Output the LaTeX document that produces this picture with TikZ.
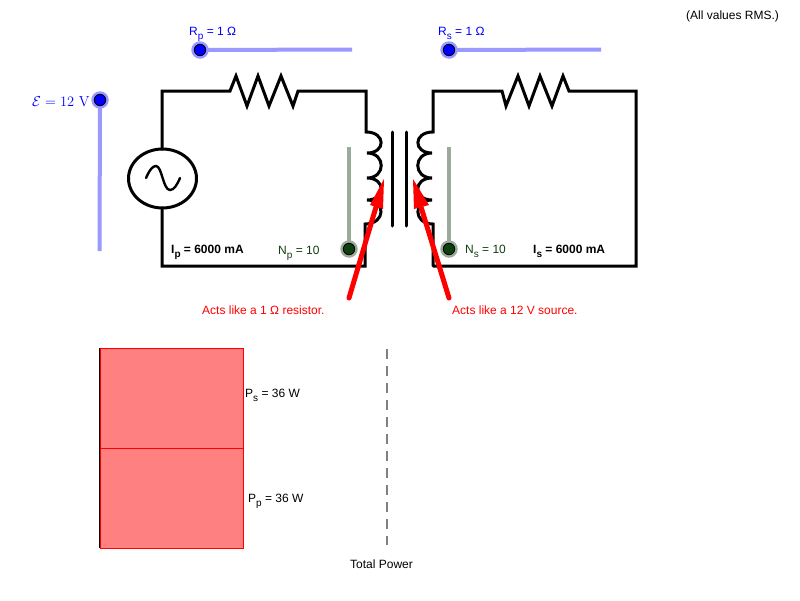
\documentclass[tikz,border=0pt]{standalone}
\usepackage{fontspec}
\setsansfont{Liberation Sans}
\definecolor{slider}{HTML}{9999FF}
\definecolor{slidergreen}{HTML}{9BAB99}
\definecolor{ptgreen}{HTML}{0F3F0F}
\definecolor{barfill}{HTML}{FF8080}
\definecolor{txtgreen}{HTML}{0F3F0F}
\newcommand{\sbs}[1]{\raisebox{-4pt}{\fontsize{10}{10}\selectfont #1}}
\tikzset{
  x=1pt,y=-1pt,
  wire/.style={draw=black,line width=3pt,line join=miter,line cap=round},
  bluetrack/.style={draw=slider,line width=4pt},
  greentrack/.style={draw=slidergreen,line width=4pt},
  bluedot/.style={circle,fill=blue,draw=black,line width=0.8pt,minimum size=11.5pt,inner sep=0pt},
  greendot/.style={circle,fill=ptgreen,draw=black,line width=0.8pt,minimum size=11.5pt,inner sep=0pt},
  halo/.style={circle,fill=#1,minimum size=17.5pt,inner sep=0pt},
  lbl/.style={font=\sffamily\fontsize{12}{14}\selectfont,inner sep=0pt,anchor=base west},
  boldlbl/.style={lbl,font=\sffamily\bfseries\fontsize{12}{14}\selectfont},
  redarrow/.style={draw=red,line width=5pt,line cap=round},
  redhead/.style={fill=red,draw=none},
  bar/.style={fill=barfill,draw=red,line width=1pt}
}
\begin{document}
\begin{tikzpicture}
\useasboundingbox (0,0) rectangle (800,600);
\fill[white] (0,0) rectangle (800,600);
% primary circuit
\draw[wire] (162,149) -- (162,91) -- (230,91) -- (236,76) -- (247,106) -- (258,76) -- (269,106) -- (281,76) -- (293,106) -- (298,91) -- (366,91) -- (366,132)
  .. controls (386,132) and (386,153) .. (367,153)
  .. controls (386,153) and (386,178) .. (367,178)
  .. controls (386,178) and (386,200) .. (367,200)
  .. controls (386,200) and (386,224) .. (365,224)
  -- (365,266) -- (162,266) -- (162,208);
\draw[draw=black,line width=3pt] (162.5,178.5) ellipse [x radius=34,y radius=29.5];
\draw[draw=black,line width=2.4pt,line cap=round] (146,178) .. controls (150,169) and (153,166) .. (156,166) .. controls (162,166) and (163,190) .. (170,190) .. controls (174,190) and (177,185) .. (180,178);
% core
\draw[wire] (392,132) -- (392,226);
\draw[wire] (406.5,132) -- (406.5,226);
% secondary circuit
\draw[wire] (433,266) -- (636,266) -- (636,91) -- (569,91) -- (563,76) -- (552,106) -- (540,76) -- (529,106) -- (518,76) -- (506,106) -- (502,91) -- (433,91) -- (433,132)
  .. controls (413,132) and (413,153) .. (432,153)
  .. controls (413,153) and (413,178) .. (432,178)
  .. controls (413,178) and (413,200) .. (432,200)
  .. controls (413,200) and (413,224) .. (433,224)
  -- (433,266);
% sliders
\node[halo=slider] (rph) at (200,50) {};
\node[halo=slider] (rsh) at (449,50) {};
\node[halo=slider] (eh) at (100,100) {};
\node[halo=slidergreen] (nph) at (349,249) {};
\node[halo=slidergreen] (nsh) at (449,249) {};
\coordinate (rpe) at (352,49.5);
\coordinate (rse) at (601,49.5);
\coordinate (ee) at (99.5,251);
\coordinate (npe) at (349,147);
\coordinate (nse) at (449,147);
\draw[bluetrack] (rph.center) -- (rpe);
\draw[bluetrack] (rsh.center) -- (rse);
\draw[bluetrack] (eh.center) -- (ee);
\draw[greentrack] (nph.center) -- (npe);
\draw[greentrack] (nsh.center) -- (nse);
\node[bluedot] (rp) at (200,50) {};
\node[bluedot] (rs) at (449,50) {};
\node[bluedot] (e) at (100,100) {};
\node[greendot] (np) at (349,249) {};
\node[greendot] (ns) at (449,249) {};
% red arrows
\coordinate (al) at (349,298);
\coordinate (ar) at (449,298);
\coordinate (tl) at (376,207);
\coordinate (tr) at (421,207);
\draw[redarrow] (al) -- (tl);
\draw[redarrow] (ar) -- (tr);
\fill[redhead] (384,179) -- (370,205) -- (383,209) -- cycle;
\fill[redhead] (413,179) -- (414,209) -- (429,205) -- cycle;
% power bars
\draw[bar] (100,348) rectangle (243,448);
\draw[bar] (100,448) rectangle (243,548);
\draw[black,line width=1pt] (99.7,348) -- (99.7,548);
\coordinate (dt) at (387,349);
\coordinate (db) at (387,545);
\draw[draw=gray,line width=1.5pt,dash pattern=on 10pt off 7pt] (dt) -- (db);
% labels
\node[lbl] (allrms) at (686,19) {(All values RMS.)};
\node[lbl,text=blue] (lrp) at (189,35) {R\sbs{p} = 1 Ω};
\node[lbl,text=blue] (lrs) at (438,35) {R\sbs{s} = 1 Ω};
\node[inner sep=0pt,anchor=base west,text=blue,font=\fontsize{14.5}{16}\selectfont] (le) at (32,106) {$\mathcal{E}=12$ V};
\node[boldlbl] (lip) at (171,253) {I\sbs{p} = 6000 mA};
\node[boldlbl] (lis) at (533,253) {I\sbs{s} = 6000 mA};
\node[lbl,text=txtgreen] (lnp) at (278,254) {N\sbs{p} = 10};
\node[lbl,text=txtgreen] (lns) at (465,253) {N\sbs{s} = 10};
\node[lbl,text=red] (ll) at (202,314) {Acts like a 1 Ω resistor.};
\node[lbl,text=red] (lr) at (452,314) {Acts like a 12 V source.};
\node[lbl] (lps) at (245,397) {P\sbs{s} = 36 W};
\node[lbl] (lpp) at (248,502) {P\sbs{p} = 36 W};
\node[lbl] (ltp) at (350,568) {Total Power};
\end{tikzpicture}
\end{document}
